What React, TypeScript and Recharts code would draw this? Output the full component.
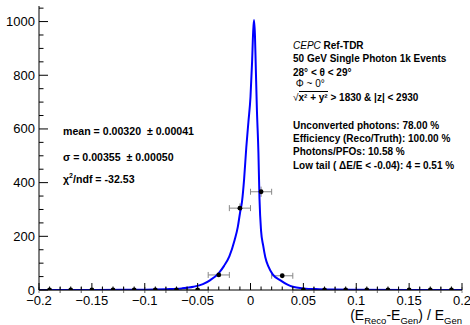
import { ComposedChart, Line, Scatter, ErrorBar, XAxis, YAxis } from 'recharts';

// histogram bins (centres), counts
const binCentres = [-0.19, -0.17, -0.15, -0.13, -0.11, -0.09, -0.07, -0.05, -0.03, -0.01, 0.01, 0.03, 0.05, 0.07, 0.09, 0.11, 0.13, 0.15, 0.17, 0.19];
const binCounts = [0, 0, 0, 0, 0, 0, 0, 0, 56, 305, 366, 53, 0, 0, 0, 0, 0, 0, 0, 0];
const binErrors = [0, 0, 0, 0, 0, 0, 0, 0, 7.5, 17.5, 19.1, 7.3, 0, 0, 0, 0, 0, 0, 0, 0];

// fit curve
const fitX = [-0.2, -0.15, -0.12, -0.1, -0.08, -0.065, -0.054, -0.045, -0.038, -0.03, -0.025, -0.02, -0.015, -0.012, -0.01, -0.008, -0.006, -0.004, -0.002, 0, 0.0015, 0.0025, 0.0033, 0.0042, 0.005, 0.006, 0.0075, 0.0085, 0.01, 0.012, 0.014, 0.017, 0.021, 0.028, 0.035, 0.04, 0.05, 0.065, 0.08, 0.1, 0.15, 0.2];
const fitY = [0, 0.3, 0.6, 1, 3, 6, 12, 22, 37, 63, 90, 125, 186, 235, 285, 330, 415, 530, 625, 720, 850, 960, 1006, 950, 830, 680, 510, 340, 220, 165, 122, 87, 58, 37, 20, 12, 6, 3, 1.5, 1, 0.3, 0];

// axis ticks
const xMajor = [-0.2, -0.15, -0.1, -0.05, 0, 0.05, 0.1, 0.15, 0.2];
const xMajorLabels = ['\u22120.2', '\u22120.15', '\u22120.1', '\u22120.05', '0', '0.05', '0.1', '0.15', '0.2'];
const xMinor = [-0.19, -0.18, -0.17, -0.16, -0.14, -0.13, -0.12, -0.11, -0.09, -0.08, -0.07, -0.06, -0.04, -0.03, -0.02, -0.01, 0.01, 0.02, 0.03, 0.04, 0.06, 0.07, 0.08, 0.09, 0.11, 0.12, 0.13, 0.14, 0.16, 0.17, 0.18, 0.19];
const yMajor = [0, 200, 400, 600, 800, 1000];
const yMinor = [50, 100, 150, 250, 300, 350, 450, 500, 550, 650, 700, 750, 850, 900, 950, 1050];

const histData = binCentres.map((x, i) => ({ x, y: binCounts[i], ex: 0.01, ey: binErrors[i] }));
const fitData = fitX.map((x, i) => ({ x, y: fitY[i] }));

const xTicks = [...xMajor, ...xMinor].sort((a, b) => a - b);
const yTicks = [...yMajor, ...yMinor].sort((a, b) => a - b);

const isMajorX = (v: number) => xMajor.some(m => Math.abs(m - v) < 1e-9);
const labelX = (v: number) => xMajorLabels[xMajor.findIndex(m => Math.abs(m - v) < 1e-9)];

const font = '"Liberation Sans", Arial, Helvetica, sans-serif';

function BottomTick(props: any) {
  const { x, y, payload } = props;
  const major = isMajorX(payload.value);
  return (
    <g>
      <line x1={x} x2={x} y1={y} y2={y - (major ? 7 : 3.5)} stroke="#000" strokeWidth={1} />
      {major && (
        <text x={x} y={y + 14.5} textAnchor="middle" fontSize={13} fontFamily={font} fill="#000">
          {labelX(payload.value)}
        </text>
      )}
    </g>
  );
}

function TopTick(props: any) {
  const { x, y, payload } = props;
  const major = isMajorX(payload.value);
  return <line x1={x} x2={x} y1={y} y2={y + (major ? 7 : 3.5)} stroke="#000" strokeWidth={1} />;
}

function LeftTick(props: any) {
  const { x, y, payload } = props;
  const major = yMajor.includes(payload.value);
  return (
    <g>
      <line x1={x} x2={x + (major ? 9 : 4.5)} y1={y} y2={y} stroke="#000" strokeWidth={1} />
      {major && (
        <text x={x - 4} y={y + 4.5} textAnchor="end" fontSize={13} fontFamily={font} fill="#000">
          {payload.value}
        </text>
      )}
    </g>
  );
}

function RightTick(props: any) {
  const { x, y, payload } = props;
  const major = yMajor.includes(payload.value);
  return <line x1={x} x2={x - (major ? 9 : 4.5)} y1={y} y2={y} stroke="#000" strokeWidth={1} />;
}

const Dot = (props: any) => <circle cx={props.cx} cy={props.cy} r={2.4} fill="#000" />;

const info: React.CSSProperties = {
  position: 'absolute',
  fontFamily: font,
  fontWeight: 'bold',
  fontSize: 10.6,
  lineHeight: '13px',
  whiteSpace: 'nowrap',
  color: '#000',
};

const infoR: React.CSSProperties = { ...info, fontSize: 10 };

const subStyle: React.CSSProperties = { fontSize: 9.5, lineHeight: 0, verticalAlign: '-4px' };

export default function App() {
  return (
    <div style={{ position: 'absolute', left: 0, top: 0, width: 470, height: 325, background: '#fff' }}>
      <ComposedChart width={470} height={325} margin={{ top: 6, right: 8, bottom: 0, left: 0 }}>
        <XAxis
          xAxisId="b"
          dataKey="x"
          type="number"
          domain={[-0.2, 0.2]}
          ticks={xTicks}
          tick={<BottomTick />}
          tickLine={false}
          tickSize={0}
          tickMargin={0}
          axisLine={{ stroke: '#000' }}
          height={35}
          allowDataOverflow
          interval={0}
        />
        <XAxis
          xAxisId="t"
          orientation="top"
          dataKey="x"
          type="number"
          domain={[-0.2, 0.2]}
          ticks={xTicks}
          tick={<TopTick />}
          tickLine={false}
          tickSize={0}
          tickMargin={0}
          axisLine={{ stroke: '#000' }}
          height={0}
          allowDataOverflow
          interval={0}
        />
        <YAxis
          yAxisId="l"
          type="number"
          domain={[0, 1058]}
          ticks={yTicks}
          tick={<LeftTick />}
          tickLine={false}
          tickSize={0}
          tickMargin={0}
          axisLine={{ stroke: '#000' }}
          width={39}
          allowDataOverflow
          interval={0}
        />
        <YAxis
          yAxisId="r"
          orientation="right"
          type="number"
          domain={[0, 1058]}
          ticks={yTicks}
          tick={<RightTick />}
          tickLine={false}
          tickSize={0}
          tickMargin={0}
          axisLine={{ stroke: '#000' }}
          width={0}
          allowDataOverflow
          interval={0}
        />
        <Scatter xAxisId="b" yAxisId="l" data={histData} dataKey="y" shape={<Dot />} isAnimationActive={false}>
          <ErrorBar dataKey="ex" direction="x" width={3} stroke="#888" strokeWidth={1} />
          <ErrorBar dataKey="ey" direction="y" width={0} stroke="#888" strokeWidth={1} />
        </Scatter>
        <Line
          xAxisId="b"
          yAxisId="l"
          data={fitData}
          dataKey="y"
          type="monotone"
          stroke="#0000ff"
          strokeWidth={2}
          dot={false}
          activeDot={false}
          isAnimationActive={false}
        />
      </ComposedChart>

      {/* left stats box */}
      <div style={{ ...info, left: 63, top: 124.5 }}>mean = 0.00320 &nbsp;± 0.00041</div>
      <div style={{ ...info, left: 63, top: 150.5 }}>σ = 0.00355 &nbsp;± 0.00050</div>
      <div style={{ ...info, left: 63, top: 172.5 }}>
        χ<sup style={{ fontSize: 7, lineHeight: 0 }}>2</sup>/ndf = -32.53
      </div>

      {/* right info block */}
      <div style={{ ...infoR, left: 293, top: 38.5 }}>
        <span style={{ fontStyle: 'italic', fontWeight: 'normal' }}>CEPC</span> Ref-TDR
      </div>
      <div style={{ ...infoR, left: 293, top: 51.5 }}>50 GeV Single Photon 1k Events</div>
      <div style={{ ...infoR, left: 293, top: 65.5 }}>28° &lt; θ &lt; 29°</div>
      <div style={{ ...infoR, left: 293, top: 76.5, fontWeight: 'normal' }}>&nbsp;Φ ~ 0°</div>
      <div style={{ ...infoR, left: 293, top: 91 }}>
        <span style={{ fontWeight: 'normal' }}>√</span>
        <span style={{ borderTop: '1px solid #000' }}>x² + y²</span> &gt; 1830 &amp; |z| &lt; 2930
      </div>
      <div style={{ ...infoR, left: 293, top: 119 }}>Unconverted photons: 78.00 %</div>
      <div style={{ ...infoR, left: 293, top: 132 }}>Efficiency (Reco/Truth): 100.00 %</div>
      <div style={{ ...infoR, left: 293, top: 145 }}>Photons/PFOs: 10.58 %</div>
      <div style={{ ...infoR, left: 293, top: 158.5 }}>Low tail ( ΔE/E &lt; -0.04): 4 = 0.51 %</div>

      {/* x axis title */}
      <div
        style={{
          position: 'absolute',
          right: 8,
          top: 307,
          fontFamily: font,
          fontSize: 14,
          lineHeight: '16px',
          whiteSpace: 'nowrap',
          color: '#000',
        }}
      >
        (E<span style={subStyle}>Reco</span>-E<span style={subStyle}>Gen</span>) / E
        <span style={subStyle}>Gen</span>
      </div>
    </div>
  );
}
